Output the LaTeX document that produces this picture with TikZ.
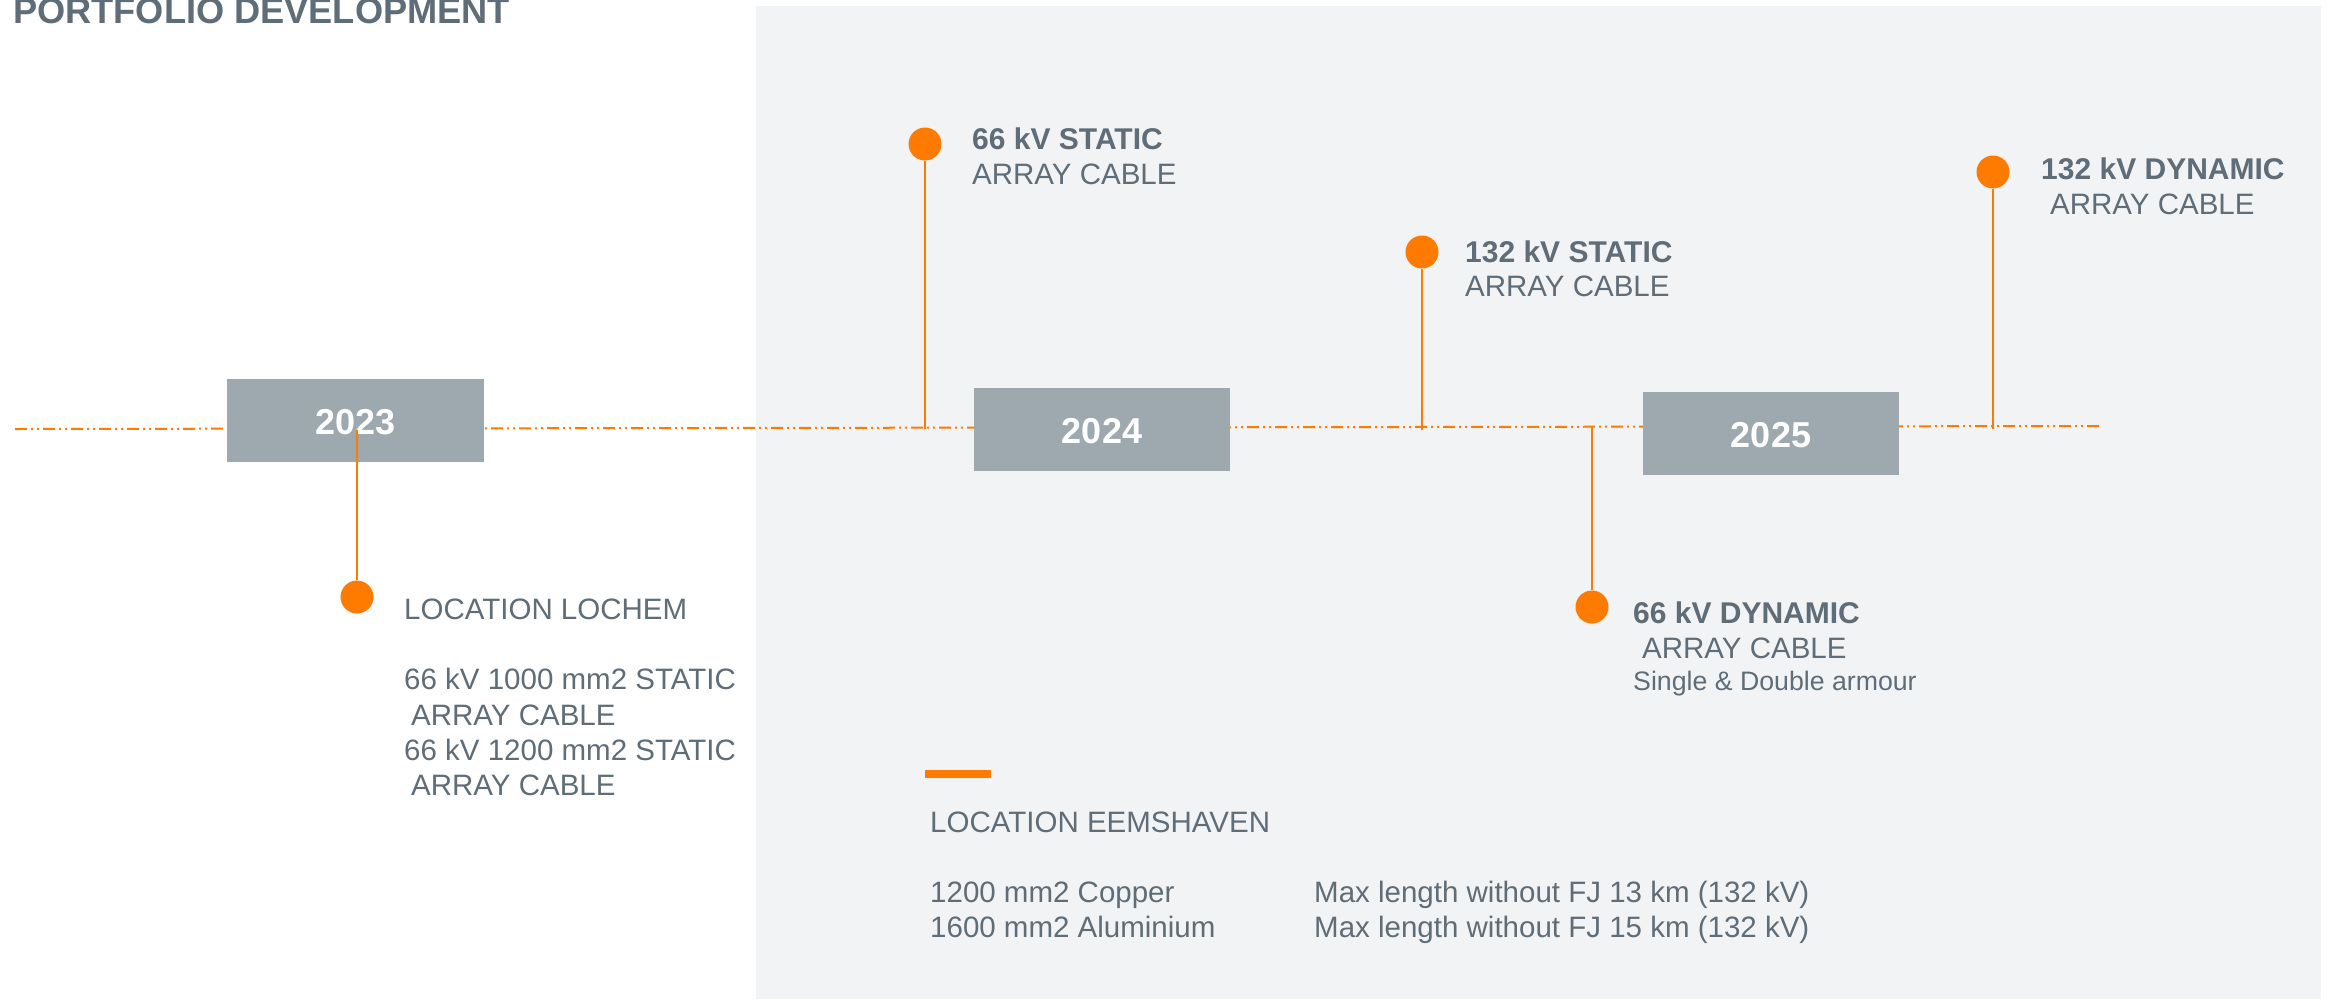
\documentclass[tikz,border=0pt]{standalone}
\usepackage{fontspec}
\setmainfont{Liberation Sans}
\definecolor{accent}{HTML}{FF7B00}
\definecolor{slate}{HTML}{5E6D77}
\definecolor{boxgray}{HTML}{9DA8AF}
\definecolor{panel}{HTML}{F2F3F5}
\tikzset{
  yearbox/.style={fill=boxgray, text=white, font=\bfseries\fontsize{36}{36}\selectfont,
    minimum width=257pt, minimum height=83pt, inner sep=0pt},
  pindot/.style={circle, fill=accent, minimum size=33pt, inner sep=0pt},
  stem/.style={draw=accent, line width=1.5pt},
  axisline/.style={draw=accent, line width=2pt,
    dash pattern=on 12pt off 4pt on 2pt off 4pt on 2pt off 4pt},
  txt/.style={anchor=base west, inner sep=0pt, text=slate, font=\fontsize{29.5}{35}\selectfont},
  btxt/.style={txt, font=\bfseries\fontsize{30}{35}\selectfont},
  stxt/.style={txt, font=\fontsize{26.7}{31}\selectfont}
}
% year label, set a little below the optical centre of its box
\newcommand{\yr}[1]{\raisebox{-1.5pt}[\height][0pt]{#1}}
\begin{document}
\begin{tikzpicture}[x=1pt,y=-1pt]
\useasboundingbox (0,0) rectangle (2330,999);
\fill[white] (0,0) rectangle (2330,999);
\fill[panel] (756,6) rectangle (2321,999);

% title
\node[txt, font=\bfseries\fontsize{36.2}{36}\selectfont] (title) at (13,23) {PORTFOLIO DEVELOPMENT};

% time axis
\coordinate (axA) at (15,429);
\coordinate (axB) at (2101,426);
\draw[axisline] (axA) -- (axB);

% year boxes
\node[yearbox] (y2023) at (355.5,420.5) {\yr{2023}};
\node[yearbox, minimum width=256pt] (y2024) at (1102,429.5) {\yr{2024}};
\node[yearbox, minimum width=256pt] (y2025) at (1771,433.5) {\yr{2025}};

% milestone pins
\node[pindot] (p1) at (357,597) {};
\node[pindot] (p2) at (925,144) {};
\node[pindot] (p3) at (1422,252) {};
\node[pindot] (p4) at (1592,607) {};
\node[pindot] (p5) at (1993,172) {};
\coordinate (s1) at (357,430);
\coordinate (s2) at (925,429);
\coordinate (s3) at (1422,429.5);
\coordinate (s4) at (1592,427);
\coordinate (s5) at (1993,429);
\draw[stem] (s1) -- (p1);
\draw[stem] (s2) -- (p2);
\draw[stem] (s3) -- (p3);
\draw[stem] (s4) -- (p4);
\draw[stem] (s5) -- (p5);

% 2023 milestone
\node[txt] (l1a) at (404,619) {LOCATION LOCHEM};
\node[txt] (l1b) at (404,689) {66 kV 1000 mm2 STATIC};
\node[txt] (l1c) at (411,725) {ARRAY CABLE};
\node[txt] (l1d) at (404,760) {66 kV 1200 mm2 STATIC};
\node[txt] (l1e) at (411,795) {ARRAY CABLE};

% 2024 milestones
\node[btxt] (l2a) at (972,149) {66 kV STATIC};
\node[txt]  (l2b) at (972,184) {ARRAY CABLE};
\node[btxt] (l3a) at (1465,262) {132 kV STATIC};
\node[txt]  (l3b) at (1465,296) {ARRAY CABLE};

% 2025 milestones
\node[btxt] (l4a) at (1633,623) {66 kV DYNAMIC};
\node[txt]  (l4b) at (1642,658) {ARRAY CABLE};
\node[stxt] (l4c) at (1633,690) {Single \& Double armour};
\node[btxt] (l5a) at (2041,179) {132 kV DYNAMIC};
\node[txt]  (l5b) at (2050,214) {ARRAY CABLE};

% production site
\fill[accent] (925,770) rectangle (991,778);
\node[txt] (e1) at (930,832) {LOCATION EEMSHAVEN};
\node[txt] (e2) at (930,902) {1200 mm2 Copper};
\node[txt] (e3) at (930,937) {1600 mm2 Aluminium};
\node[txt] (e4) at (1314,902) {Max length without FJ 13 km (132 kV)};
\node[txt] (e5) at (1314,937) {Max length without FJ 15 km (132 kV)};
\end{tikzpicture}
\end{document}
